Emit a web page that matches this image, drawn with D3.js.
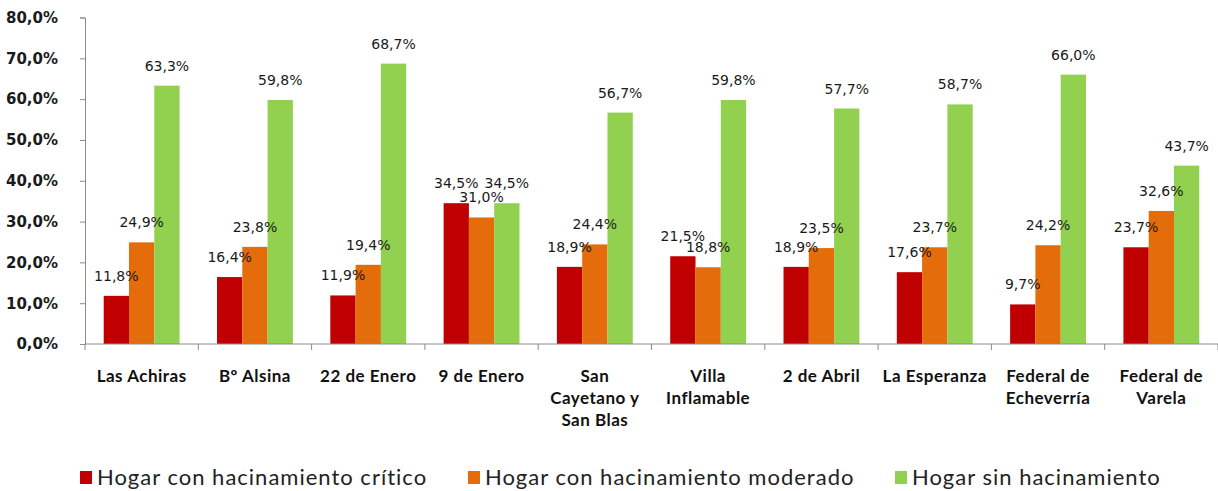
<!DOCTYPE html>
<html>
<head>
<meta charset="utf-8">
<script src="https://cdn.jsdelivr.net/npm/d3@7"></script>
<style>
  body { margin: 0; background: #fff; }
  svg { display: block; }
</style>
</head>
<body>
<svg width="1218" height="491"></svg>
<script>
// data
const categories = [
  ['Las Achiras'],
  ['Bº Alsina'],
  ['22 de Enero'],
  ['9 de Enero'],
  ['San', 'Cayetano y', 'San Blas'],
  ['Villa', 'Inflamable'],
  ['2 de Abril'],
  ['La Esperanza'],
  ['Federal de', 'Echeverría'],
  ['Federal de', 'Varela']
];
const seriesNames = [
  'Hogar con hacinamiento crítico',
  'Hogar con hacinamiento moderado',
  'Hogar sin hacinamiento'
];
const critico = [11.8, 16.4, 11.9, 34.5, 18.9, 21.5, 18.9, 17.6, 9.7, 23.7];
const moderado = [24.9, 23.8, 19.4, 31.0, 24.4, 18.8, 23.5, 23.7, 24.2, 32.6];
const sinHacinamiento = [63.3, 59.8, 68.7, 34.5, 56.7, 59.8, 57.7, 58.7, 66.0, 43.7];
const yTicks = [0, 10, 20, 30, 40, 50, 60, 70, 80];

const colors = ['#C00000', '#E46C0A', '#92D050'];
const series = [critico, moderado, sinHacinamiento];

const svg = d3.select('svg');
const plotLeft = 85, plotRight = 1218, plotTop = 17.5, plotBottom = 344;
const axisColor = '#8c8c8c';
const fmt = v => d3.format('.1f')(v).replace('.', ',') + '%';

const x = d3.scaleBand().domain(d3.range(categories.length)).range([plotLeft, plotRight]).padding(0);
const xSub = d3.scaleBand().domain(d3.range(series.length)).range([0, x.bandwidth()])
  .paddingInner(0).paddingOuter(0.74);
const y = d3.scaleLinear().domain([0, 80]).range([plotBottom, plotTop]);

// y axis
const yAxis = svg.append('g').attr('transform', `translate(${plotLeft},0)`)
  .call(d3.axisLeft(y).tickValues(yTicks).tickSize(5).tickPadding(22).tickFormat(fmt));
yAxis.select('.domain').attr('stroke', axisColor);
yAxis.selectAll('.tick line').attr('stroke', axisColor);
yAxis.selectAll('.tick text')
  .attr('fill', '#1a1a1a')
  .style('font', 'bold 15px "DejaVu Sans", Verdana, sans-serif');

// bars
const groups = svg.append('g').selectAll('g')
  .data(categories)
  .join('g')
  .attr('transform', (d, i) => `translate(${x(i)},0)`);

series.forEach((vals, s) => {
  groups.append('rect')
    .attr('x', xSub(s))
    .attr('width', xSub.bandwidth())
    .attr('y', (d, i) => y(vals[i]))
    .attr('height', (d, i) => y(0) - y(vals[i]))
    .attr('fill', colors[s]);
});

// data labels (overlaps kept as in the original)
series.forEach((vals, s) => {
  groups.append('text')
    .attr('x', xSub(s) + xSub.bandwidth() / 2)
    .attr('y', (d, i) => y(vals[i]) - 15)
    .attr('text-anchor', 'middle')
    .attr('fill', '#1a1a1a')
    .style('font', '14px "DejaVu Sans", Verdana, sans-serif')
    .text((d, i) => fmt(vals[i]));
});

// x axis
svg.append('line')
  .attr('x1', plotLeft).attr('x2', plotRight)
  .attr('y1', plotBottom).attr('y2', plotBottom)
  .attr('stroke', axisColor);
svg.append('g').selectAll('line')
  .data(d3.range(categories.length + 1))
  .join('line')
  .attr('x1', i => plotLeft + i * x.step())
  .attr('x2', i => plotLeft + i * x.step())
  .attr('y1', plotBottom).attr('y2', plotBottom + 6)
  .attr('stroke', axisColor);

// category labels
const catLabels = svg.append('g').selectAll('text')
  .data(categories)
  .join('text')
  .attr('text-anchor', 'middle')
  .attr('fill', '#111')
  .style('font', 'bold 17px Lato, "Open Sans", sans-serif')
  .style('letter-spacing', '0.5px');
catLabels.selectAll('tspan')
  .data((d, i) => d.map(line => ({ line, i })))
  .join('tspan')
  .attr('x', d => x(d.i) + x.bandwidth() / 2)
  .attr('y', (d, j) => 382 + j * 22)
  .text(d => d.line);

// legend
const legendX = [80, 468, 895];
const legend = svg.append('g').selectAll('g')
  .data(seriesNames)
  .join('g')
  .attr('transform', (d, i) => `translate(${legendX[i]},478)`);
legend.append('rect')
  .attr('x', 0).attr('y', -7)
  .attr('width', 12).attr('height', 13)
  .attr('fill', (d, i) => colors[i]);
legend.append('text')
  .attr('x', 17).attr('y', 7)
  .attr('fill', '#222')
  .style('font', '22px Lato, "Open Sans", sans-serif')
  .style('letter-spacing', '1px')
  .text(d => d);
</script>
</body>
</html>
